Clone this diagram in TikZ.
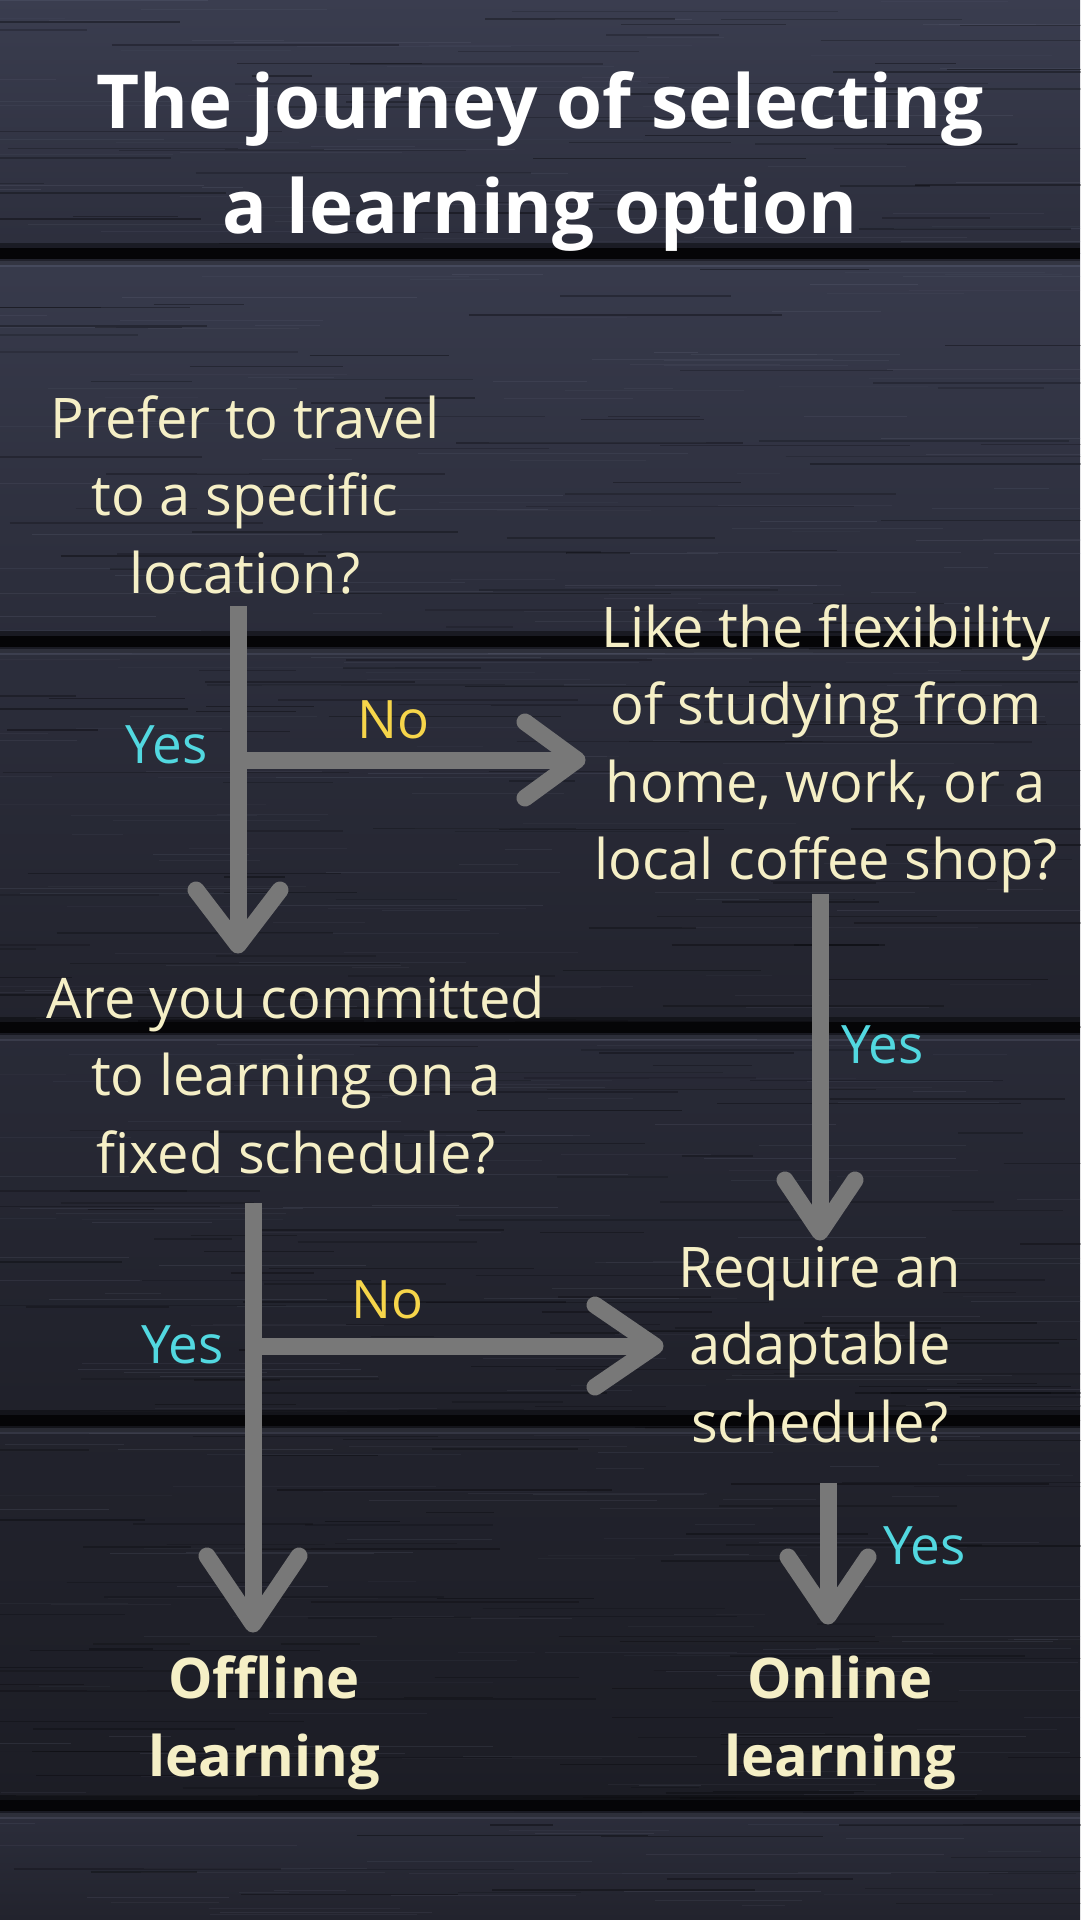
\documentclass[tikz,border=0pt]{standalone}
\usepackage{fontspec}
\setmainfont{Open Sans}
\usetikzlibrary{calc}
\definecolor{cream}{HTML}{F5EFC6}
\definecolor{cyanl}{HTML}{52D8E0}
\definecolor{yell}{HTML}{F6D54A}
\definecolor{arrowgray}{HTML}{787878}
\definecolor{plankA}{HTML}{3A3D4F}
\definecolor{plankB}{HTML}{2C2E3C}
\definecolor{plankC}{HTML}{22232D}
\definecolor{plankD}{HTML}{1C1D25}
\definecolor{groove}{HTML}{050507}
\definecolor{grainlight}{HTML}{8A90A8}
\newcommand{\flA}{\rule{0pt}{45pt}}
\newcommand{\flT}{\rule{0pt}{60pt}}
\newcommand{\flB}{\rule{0pt}{45pt}}
\begin{document}
\begin{tikzpicture}[x=1pt,y=-1pt,
  qtext/.style={anchor=north, inner sep=0pt, align=center, text=cream, font=\fontsize{56}{77.5}\selectfont},
  endtext/.style={anchor=north, inner sep=0pt, align=center, text=cream, font=\fontsize{56}{78}\selectfont\bfseries},
  titletext/.style={anchor=north, inner sep=0pt, align=center, text=white, font=\fontsize{74.5}{105}\selectfont\bfseries},
  lab/.style={anchor=base west, inner sep=0pt, font=\fontsize{53}{60}\selectfont},
  shaft/.style={draw=arrowgray, line width=17pt, line cap=butt},
  chev/.style={draw=arrowgray, line width=17pt, line cap=round, line join=round}]
\useasboundingbox (0,0) rectangle (1080,1920);
% planks
\shade[top color=plankA, bottom color=plankB] (0,0) rectangle (1080,253);
\shade[top color=plankA!85!plankB, bottom color=plankB!80!plankC] (0,253) rectangle (1080,641);
\shade[top color=plankB, bottom color=plankC] (0,641) rectangle (1080,1027);
\shade[top color=plankB!70!plankC, bottom color=plankC!60!plankD] (0,1027) rectangle (1080,1420);
\shade[top color=plankC, bottom color=plankD] (0,1420) rectangle (1080,1805);
\shade[top color=plankB, bottom color=plankC] (0,1805) rectangle (1080,1920);
% wood grain
\pgfmathsetseed{11}
\foreach \i in {1,...,450}{
  \pgfmathsetmacro\gy{rnd*1920}
  \pgfmathsetmacro\gx{rnd*1080}
  \pgfmathsetmacro\gl{40+rnd*260}
  \pgfmathsetmacro\go{0.04+0.10*rnd}
  \draw[grainlight, opacity=\go, line width=1pt] (\gx-\gl/2,\gy) -- (\gx+\gl/2,\gy);
}
\foreach \i in {1,...,350}{
  \pgfmathsetmacro\gy{rnd*1920}
  \pgfmathsetmacro\gx{rnd*1080}
  \pgfmathsetmacro\gl{60+rnd*300}
  \pgfmathsetmacro\go{0.15+0.25*rnd}
  \draw[groove, opacity=\go, line width=1.5pt] (\gx-\gl/2,\gy) -- (\gx+\gl/2,\gy);
}
% grooves
\foreach \g in {253,641,1027,1420,1805}{
  \fill[groove, opacity=0.45] (0,\g-10) rectangle (1080,\g+12);
  \fill[groove] (0,\g-5) rectangle (1080,\g+6);
  \fill[grainlight, opacity=0.18] (0,\g+8) rectangle (1080,\g+14);
}
% title
\node[titletext] (title) at (540,68) {\flT The journey of selecting\\a learning option};
% questions
\node[qtext] (q1) at (245,393) {\flA Prefer to travel\\to a specific\\location?};
\node[qtext] (q2) at (826,602) {\flA Like the flexibility\\of studying from\\home, work, or a\\local coffee shop?};
\node[qtext] (q3) at (296,973) {\flA Are you committed\\to learning on a\\fixed schedule?};
\node[qtext] (q4) at (820,1242) {\flA Require an\\adaptable\\schedule?};
\node[endtext] (off) at (264,1653) {\flB Offline\\learning};
\node[endtext] (on) at (840,1653) {\flB Online\\learning};
% arrow anchors
\coordinate (a1s) at (238,606);
\coordinate (a1e) at (238,945);
\coordinate (a1b) at (238,760);
\coordinate (a1h) at (577,760);
\coordinate (a2s) at (820,894);
\coordinate (a2e) at (820,1232);
\coordinate (a3s) at (253,1203);
\coordinate (a3e) at (253,1624);
\coordinate (a3b) at (253,1346);
\coordinate (a3h) at (655,1346);
\coordinate (a4s) at (828,1483);
\coordinate (a4e) at (828,1616);
% connectors
\draw[shaft] (a1s) -- (a1e);
\draw[chev] ($(a1e)+(-42,-55)$) -- (a1e) -- ($(a1e)+(42,-55)$);
\draw[shaft] (a1b) -- (a1h);
\draw[chev] ($(a1h)+(-52,-38)$) -- (a1h) -- ($(a1h)+(-52,38)$);
\draw[shaft] (a2s) -- (a2e);
\draw[chev] ($(a2e)+(-35,-52)$) -- (a2e) -- ($(a2e)+(35,-52)$);
\draw[shaft] (a3s) -- (a3e);
\draw[chev] ($(a3e)+(-46,-68)$) -- (a3e) -- ($(a3e)+(46,-68)$);
\draw[shaft] (a3b) -- (a3h);
\draw[chev] ($(a3h)+(-60,-41)$) -- (a3h) -- ($(a3h)+(-60,41)$);
\draw[shaft] (a4s) -- (a4e);
\draw[chev] ($(a4e)+(-40,-59)$) -- (a4e) -- ($(a4e)+(40,-59)$);
% labels
\node[lab, text=cyanl] (y1) at (125,763) {Yes};
\node[lab, text=yell] (n1) at (357,738) {No};
\node[lab, text=cyanl] (y2) at (841,1063) {Yes};
\node[lab, text=cyanl] (y3) at (141,1363) {Yes};
\node[lab, text=yell] (n3) at (351,1318) {No};
\node[lab, text=cyanl] (y4) at (883,1564) {Yes};
\end{tikzpicture}
\end{document}
